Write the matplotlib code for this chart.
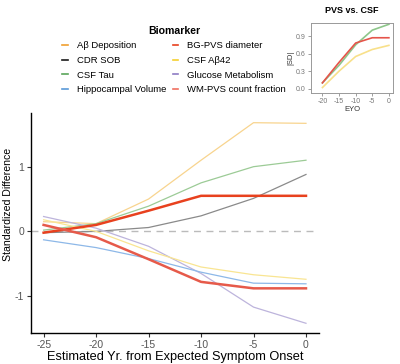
import numpy as np
import matplotlib
matplotlib.use('Agg')
import matplotlib.pyplot as plt
from matplotlib.lines import Line2D

plt.rcParams['font.family'] = ['Liberation Sans', 'DejaVu Sans']
plt.rcParams['axes.unicode_minus'] = False

eyo = [-25, -20, -15, -10, -5, 0]

# standardized differences
ab_dep = [0.15, 0.12, 0.50, 1.10, 1.68, 1.67]
bg_pvs = [-0.02, 0.10, 0.32, 0.55, 0.55, 0.55]
cdr_sob = [-0.02, 0.00, 0.06, 0.24, 0.51, 0.88]
csf_ab42 = [0.18, 0.00, -0.30, -0.55, -0.67, -0.74]
csf_tau = [0.02, 0.12, 0.39, 0.75, 1.00, 1.10]
glucose = [0.23, 0.05, -0.23, -0.65, -1.17, -1.42]
hippo = [-0.13, -0.25, -0.42, -0.63, -0.80, -0.81]
wm_pvs = [0.10, -0.09, -0.43, -0.78, -0.88, -0.88]

inset_eyo = [-20, -15, -10, -5, 0]
inset_tau = [0.10, 0.40, 0.75, 1.00, 1.10]
inset_ab42 = [0.02, 0.30, 0.55, 0.67, 0.74]
inset_wm = [0.10, 0.45, 0.78, 0.87, 0.87]

labels = ['A\u03b2 Deposition', 'CDR SOB', 'CSF Tau', 'Hippocampal Volume',
          'BG-PVS diameter', 'CSF A\u03b242', 'Glucose Metabolism', 'WM-PVS count fraction']
key_colors = ['#F0A030', '#1a1a1a', '#5aa55a', '#5a9ad8',
              '#E8411E', '#F5D030', '#8E7CC3', '#F07060']

fig = plt.figure(figsize=(4.0, 3.64), dpi=100)
ax = fig.add_axes([0.0775, 0.0852, 0.72, 0.6044])

faded = [
    (ab_dep, '#F8D48E'),
    (csf_tau, '#9CCB96'),
    (cdr_sob, '#8a8a8a'),
    (glucose, '#BDB4DC'),
    (csf_ab42, '#F9E592'),
    (hippo, '#8DB8E8'),
]
ax.axhline(0, color='#bbbbbb', lw=1.0, ls=(0, (5, 4)), zorder=1)
for ys, c in faded:
    ax.plot(eyo, ys, color=c, lw=0.9, zorder=2)
ax.plot(eyo, bg_pvs, color='#E8411E', lw=1.8, zorder=3)
ax.plot(eyo, wm_pvs, color='#E65A4A', lw=1.8, zorder=3)

ax.set_xlim(-26.2, 1.24)
ax.set_ylim(-1.57, 1.83)
ax.set_xticks([-25, -20, -15, -10, -5, 0])
ax.set_yticks([-1, 0, 1])
ax.spines['top'].set_visible(False)
ax.spines['right'].set_visible(False)
ax.spines['left'].set_linewidth(1.0)
ax.spines['bottom'].set_linewidth(1.0)
ax.tick_params(colors='#555555', labelsize=7.5, length=3, width=0.8, pad=2)
ax.tick_params(axis='both', color='#333333')
ax.set_xlabel('Estimated Yr. from Expected Symptom Onset', fontsize=9.2, labelpad=1)
ax.set_ylabel('Standardized Difference', fontsize=7.6)
ax.yaxis.set_label_coords(-0.064, 0.586)

handles = [Line2D([0], [0], color=c, lw=1.2) for c in key_colors]
leg = fig.legend(handles, labels, ncol=2, loc='center', bbox_to_anchor=(0.435, 0.835),
                 frameon=False, title='Biomarker', fontsize=6.8, handlelength=0.6,
                 handletextpad=0.9, columnspacing=0.7, labelspacing=0.6)
leg.get_title().set_fontweight('bold')
leg.get_title().set_fontsize(7.6)

ins = fig.add_axes([0.777, 0.745, 0.206, 0.1915])
ins.plot(inset_eyo, inset_tau, color='#8DC68A', lw=1.2)
ins.plot(inset_eyo, inset_ab42, color='#F8E08A', lw=1.2)
ins.plot(inset_eyo, inset_wm, color='#E5544A', lw=1.2)
ins.set_xlim(-23.5, 1.3)
ins.set_ylim(-0.07, 1.12)
ins.set_xticks([-20, -15, -10, -5, 0])
ins.set_yticks([0.0, 0.3, 0.6, 0.9])
for s in ins.spines.values():
    s.set_color('#999999')
    s.set_linewidth(0.7)
ins.tick_params(colors='#777777', labelsize=5, length=2, width=0.5, pad=1.5)
ins.set_title('PVS vs. CSF', fontsize=6.5, fontweight='bold', pad=7)
ins.set_xlabel('EYO', fontsize=5.5, labelpad=1, color='#333333')
ins.set_ylabel('|SD|', fontsize=5.5, labelpad=1, color='#333333')

fig.savefig('out.png', dpi=100)
